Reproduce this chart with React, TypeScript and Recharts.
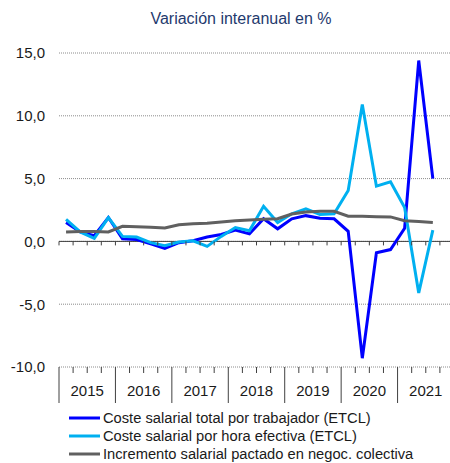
import { LineChart, Line, XAxis, YAxis, CartesianGrid, ReferenceLine } from 'recharts'

// Quarterly periods, 2015-T1 .. 2021-T4 (last quarter still without data)
const YEARS = ['2015', '2016', '2017', '2018', '2019', '2020', '2021']
const QUARTERS = ['T1', 'T2', 'T3', 'T4']
const PERIODS = YEARS.flatMap((y) => QUARTERS.map((q) => `${y}-${q}`))

// Year-on-year change, %
const COSTE_TRABAJADOR = [
  1.5, 0.75, 0.45, 1.9,
  0.2, 0.15, -0.2, -0.55,
  -0.1, 0.05, 0.35, 0.55,
  0.9, 0.6, 1.8, 1.0,
  1.8, 2.05, 1.85, 1.8,
  0.8, -9.3, -0.9, -0.65,
  1.05, 14.4, 5.0,
]
const COSTE_HORA = [
  1.75, 0.75, 0.25, 1.9,
  0.4, 0.35, -0.1, -0.35,
  -0.05, 0.05, -0.4, 0.4,
  1.1, 0.85, 2.8, 1.5,
  2.2, 2.6, 2.15, 2.2,
  4.05, 10.9, 4.4, 4.75,
  2.7, -4.1, 0.9,
]
const INCREMENTO_PACTADO = [
  0.75, 0.78, 0.78, 0.75,
  1.2, 1.17, 1.12, 1.07,
  1.33, 1.41, 1.45, 1.55,
  1.65, 1.7, 1.76, 1.81,
  2.18, 2.34, 2.4, 2.4,
  2.0, 2.0, 1.97, 1.95,
  1.65, 1.58, 1.5,
]

const Y_TICKS = [-10, -5, 0, 5, 10, 15]

const SERIES = [
  { key: 'trabajador', name: 'Coste salarial total por trabajador (ETCL)', values: COSTE_TRABAJADOR, color: '#0000ff' },
  { key: 'hora', name: 'Coste salarial por hora efectiva (ETCL)', values: COSTE_HORA, color: '#00b0f0' },
  { key: 'pactado', name: 'Incremento salarial pactado en negoc. colectiva', values: INCREMENTO_PACTADO, color: '#606060' },
]

const FONT = '"Liberation Sans", Arial, sans-serif'
const TEXT = '#1a1a1a'
const AXIS = '#404040'

const CHART_W = 460
const CHART_H = 463
const MARGIN = { top: 53, right: 6, bottom: 56, left: 0 }
const Y_AXIS_W = 59
const X_AXIS_H = 40
const PLOT_W = CHART_W - MARGIN.left - MARGIN.right - Y_AXIS_W
const PLOT_H = CHART_H - MARGIN.top - MARGIN.bottom - X_AXIS_H
const BAND = PLOT_W / PERIODS.length
const Y_MIN = Y_TICKS[0]
const Y_MAX = Y_TICKS[Y_TICKS.length - 1]

const data = PERIODS.map((p, i) => {
  const row: Record<string, string | number | null> = { period: p }
  for (const s of SERIES) row[s.key] = s.values[i] ?? null
  return row
})

const fmt = (v: number) => v.toFixed(1).replace('.', ',')

// Quarter ticks on the zero line and on the bottom band, year separators and year labels
function PeriodTick(props: any) {
  const { x, y, index } = props
  const left = x - BAND / 2
  const quarter = index % 4
  const zeroY = y - (PLOT_H * (0 - Y_MIN)) / (Y_MAX - Y_MIN)
  return (
    <g>
      <line x1={left} x2={left} y1={zeroY} y2={zeroY + 4} stroke={AXIS} strokeWidth={1} />
      <line x1={left} x2={left} y1={y} y2={y + (quarter === 0 ? 36 : 6)} stroke={AXIS} strokeWidth={1} />
      {quarter === 1 && (
        <text x={x + BAND / 2} y={y + 29} textAnchor="middle" fontSize={15} fontFamily={FONT} fill={TEXT}>
          {PERIODS[index].slice(0, 4)}
        </text>
      )}
    </g>
  )
}

export default function App() {
  return (
    <div
      style={{
        position: 'absolute',
        left: 0,
        top: 0,
        width: 450,
        height: 463,
        overflow: 'hidden',
        background: '#fff',
        fontFamily: FONT,
      }}
    >
      <div
        style={{
          position: 'absolute',
          top: 10,
          left: 0,
          width: 482,
          textAlign: 'center',
          fontSize: 16,
          color: '#1f3a6e',
        }}
      >
        Variación interanual en %
      </div>
      <LineChart width={CHART_W} height={CHART_H} data={data} margin={MARGIN}>
        <CartesianGrid vertical={false} stroke="#8c8c8c" strokeDasharray="1 1" />
        <XAxis
          dataKey="period"
          scale="band"
          height={X_AXIS_H}
          interval={0}
          axisLine={false}
          tickLine={false}
          tickSize={0}
          tickMargin={0}
          tick={<PeriodTick />}
        />
        <YAxis
          width={Y_AXIS_W}
          domain={[Y_MIN, Y_MAX]}
          ticks={Y_TICKS}
          tickFormatter={fmt}
          axisLine={false}
          tickLine={false}
          tickSize={6}
          tickMargin={8}
          tick={{ fill: TEXT, fontSize: 15, fontFamily: FONT }}
        />
        <ReferenceLine y={0} stroke={AXIS} strokeWidth={1} />
        {SERIES.map((s) => (
          <Line
            key={s.key}
            type="linear"
            dataKey={s.key}
            name={s.name}
            stroke={s.color}
            strokeWidth={3}
            dot={false}
            activeDot={false}
            isAnimationActive={false}
          />
        ))}
      </LineChart>
      <div style={{ position: 'absolute', left: 69, top: 409, fontSize: 14.7, color: TEXT, lineHeight: '18px' }}>
        {SERIES.map((s) => (
          <div key={s.key} style={{ display: 'flex', alignItems: 'center', whiteSpace: 'nowrap' }}>
            <svg width={33} height={4} style={{ marginRight: 1 }}>
              <line x1={0} x2={31} y1={2} y2={2} stroke={s.color} strokeWidth={3} />
            </svg>
            {s.name}
          </div>
        ))}
      </div>
    </div>
  )
}
